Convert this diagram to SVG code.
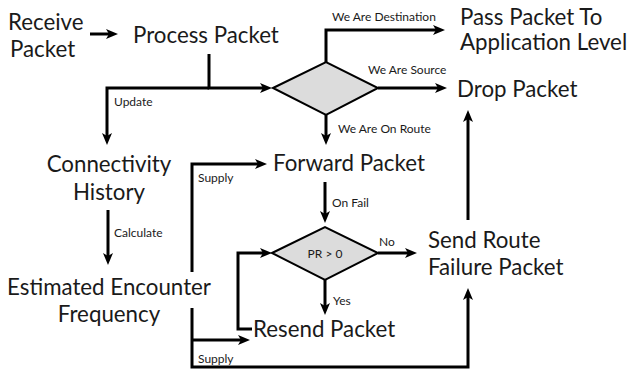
<svg xmlns="http://www.w3.org/2000/svg" width="630" height="370" viewBox="0 0 630 370">
<style>
.n{font-family:Lato,"Open Sans","DejaVu Sans",sans-serif;font-size:22.3px;fill:#1a1a1a}
.l{font-family:Lato,"Open Sans","DejaVu Sans",sans-serif;font-size:12px;fill:#1a1a1a}
.c{fill:none;stroke:#000;stroke-width:3;stroke-linejoin:miter;marker-end:url(#ah)}
.d{fill:#dcdcdc;stroke:#000;stroke-width:2}
</style>
<defs>
<marker id="ah" markerUnits="userSpaceOnUse" markerWidth="13" markerHeight="12" refX="3" refY="6" orient="auto" viewBox="0 0 13 12">
<path d="M0,1 L12,6 L0,11 L3,6 z" fill="#000"/>
</marker>
</defs>
<rect width="630" height="370" fill="#fff"/>
<g id="connectors">
<path class="c" d="M90,34 H109"/>
<path class="c" d="M209,54 V88 H263"/>
<path class="c" d="M209,88 H107 V136"/>
<path class="c" d="M326,62 V30 H436"/>
<path class="c" d="M378,88 H438"/>
<path class="c" d="M326,115 V136"/>
<path class="c" d="M192,272 V164 H258"/>
<path class="c" d="M108,210 V256"/>
<path class="c" d="M325,182 V214"/>
<path class="c" d="M378,253 H408"/>
<path class="c" d="M325,280 V306"/>
<path class="c" d="M252,329 H238 V253 H263"/>
<path class="c" d="M192,308 V367 H468 V297"/>
<path class="c" d="M192,340 H241"/>
<path class="c" d="M468,220 V119"/>
<text class="l" x="114" y="106">Update</text>
<text class="l" x="332" y="21">We Are Destination</text>
<text class="l" x="368" y="74">We Are Source</text>
<text class="l" x="338" y="133">We Are On Route</text>
<text class="l" x="198" y="182">Supply</text>
<text class="l" x="114" y="237">Calculate</text>
<text class="l" x="332" y="207">On Fail</text>
<text class="l" x="379" y="246">No</text>
<text class="l" x="333" y="305">Yes</text>
<text class="l" x="198" y="363">Supply</text>
</g>
<g id="receive"><text class="n" x="8" y="30">Receive</text><text class="n" x="10" y="57">Packet</text></g>
<g id="process"><text class="n" x="133" y="43">Process Packet</text></g>
<g id="decision1"><polygon class="d" points="273,88 326,62 378,88 326,115"/></g>
<g id="pass"><text class="n" x="460" y="25">Pass Packet To</text><text class="n" x="460" y="50">Application Level</text></g>
<g id="drop"><text class="n" x="457" y="97">Drop Packet</text></g>
<g id="forward"><text class="n" x="273" y="171">Forward Packet</text></g>
<g id="connectivity"><text class="n" x="109" y="172" text-anchor="middle">Connectivity</text><text class="n" x="109" y="200" text-anchor="middle">History</text></g>
<g id="estimated"><text class="n" x="109" y="295" text-anchor="middle">Estimated Encounter</text><text class="n" x="109" y="322" text-anchor="middle">Frequency</text></g>
<g id="decision2"><polygon class="d" points="272,253 325,227 378,253 325,280"/><text class="l" x="325" y="258" text-anchor="middle" font-size="12.5">PR &gt; 0</text></g>
<g id="sendfail"><text class="n" x="428" y="248">Send Route</text><text class="n" x="428" y="275">Failure Packet</text></g>
<g id="resend"><text class="n" x="253" y="337">Resend Packet</text></g>
</svg>
